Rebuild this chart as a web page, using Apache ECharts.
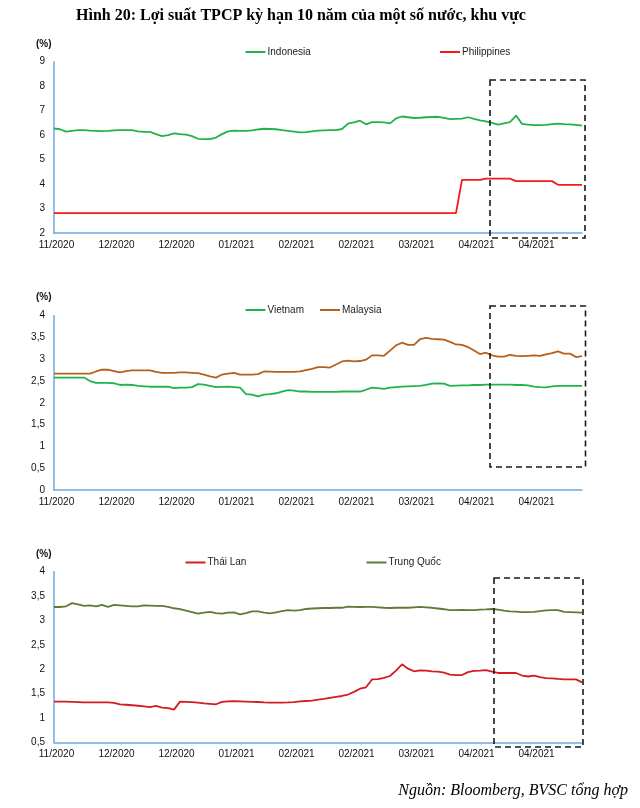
<!DOCTYPE html>
<html>
<head>
<meta charset="utf-8">
<script src="https://cdn.jsdelivr.net/npm/echarts@6/dist/echarts.min.js"></script>
<style>
html,body{margin:0;padding:0;background:#fff;}
#c{width:640px;height:808px;}
</style>
</head>
<body>
<div id="c"></div>
<script>
// ---- Data ----
const xTickLabels = ['11/2020','12/2020','12/2020','01/2021','02/2021','02/2021','03/2021','04/2021','04/2021'];
const LABEL_STEP = 10;
const categories = Array.from({length: 89}, (_, i) => 'd' + i);

const indonesia = [6.27,6.24,6.14,6.17,6.2,6.2,6.18,6.17,6.16,6.17,6.19,6.2,6.2,6.2,6.15,6.13,6.13,6.04,5.96,6.0,
6.07,6.04,6.02,5.96,5.85,5.84,5.84,5.9,6.04,6.15,6.18,6.17,6.17,6.19,6.23,6.26,6.25,6.24,6.2,6.17,
6.14,6.11,6.12,6.15,6.18,6.19,6.2,6.2,6.25,6.47,6.52,6.59,6.44,6.53,6.53,6.52,6.48,6.68,6.76,6.73,
6.7,6.71,6.73,6.74,6.75,6.7,6.65,6.66,6.67,6.73,6.66,6.6,6.56,6.5,6.43,6.48,6.53,6.8,6.46,6.43,
6.41,6.41,6.42,6.45,6.47,6.45,6.44,6.42,6.39];
const philippines = [2.81,2.81,2.81,2.81,2.81,2.81,2.81,2.81,2.81,2.81,2.81,2.81,2.81,2.81,2.81,2.81,2.81,2.81,2.81,2.81,
2.81,2.81,2.81,2.81,2.81,2.81,2.81,2.81,2.81,2.81,2.81,2.81,2.81,2.81,2.81,2.81,2.81,2.81,2.81,2.81,
2.81,2.81,2.81,2.81,2.81,2.81,2.81,2.81,2.81,2.81,2.81,2.81,2.81,2.81,2.81,2.81,2.81,2.81,2.81,2.81,
2.81,2.81,2.81,2.81,2.81,2.81,2.81,2.81,4.17,4.17,4.17,4.17,4.22,4.22,4.22,4.22,4.22,4.12,4.12,4.12,
4.12,4.12,4.12,4.12,3.97,3.97,3.97,3.97,3.97];

const vietnam = [2.58,2.58,2.58,2.58,2.58,2.58,2.5,2.46,2.46,2.46,2.45,2.41,2.42,2.41,2.39,2.38,2.37,2.37,2.37,2.37,
2.34,2.35,2.35,2.36,2.43,2.42,2.39,2.36,2.365,2.37,2.36,2.35,2.2,2.19,2.15,2.19,2.2,2.22,2.26,2.29,
2.28,2.26,2.26,2.25,2.25,2.25,2.25,2.25,2.26,2.26,2.26,2.26,2.3,2.35,2.34,2.32,2.35,2.36,2.37,2.38,
2.385,2.39,2.41,2.44,2.445,2.44,2.39,2.395,2.4,2.4,2.41,2.41,2.42,2.42,2.42,2.42,2.42,2.41,2.41,2.4,
2.37,2.36,2.355,2.38,2.39,2.39,2.39,2.39,2.39];
const malaysia = [2.67,2.67,2.67,2.67,2.67,2.67,2.67,2.72,2.76,2.76,2.73,2.7,2.73,2.745,2.745,2.745,2.745,2.71,2.69,2.69,
2.69,2.7,2.7,2.69,2.68,2.65,2.61,2.58,2.65,2.67,2.69,2.65,2.65,2.65,2.66,2.72,2.715,2.71,2.71,2.71,
2.71,2.72,2.75,2.78,2.82,2.82,2.81,2.88,2.95,2.97,2.95,2.96,2.99,3.09,3.09,3.08,3.2,3.32,3.38,3.33,
3.33,3.46,3.49,3.47,3.46,3.45,3.4,3.34,3.33,3.28,3.2,3.12,3.15,3.09,3.06,3.06,3.1,3.08,3.07,3.08,
3.09,3.08,3.11,3.14,3.18,3.13,3.13,3.05,3.07];

const thailand = [1.334,1.334,1.334,1.33,1.325,1.32,1.32,1.32,1.32,1.32,1.31,1.28,1.27,1.26,1.25,1.235,1.22,1.245,1.21,1.2,
1.17,1.334,1.33,1.325,1.315,1.3,1.29,1.28,1.33,1.34,1.345,1.34,1.335,1.328,1.327,1.32,1.316,1.313,1.316,1.32,
1.325,1.34,1.347,1.354,1.375,1.39,1.41,1.43,1.45,1.48,1.535,1.6,1.628,1.79,1.797,1.82,1.86,1.97,2.1,2.01,
1.957,1.975,1.97,1.956,1.952,1.93,1.89,1.88,1.88,1.94,1.967,1.972,1.98,1.95,1.922,1.922,1.922,1.922,1.87,1.85,
1.87,1.835,1.815,1.812,1.8,1.792,1.792,1.792,1.73];
const china = [3.276,3.276,3.29,3.355,3.33,3.3,3.31,3.29,3.32,3.28,3.32,3.31,3.3,3.29,3.29,3.31,3.305,3.3,3.3,3.28,
3.25,3.23,3.2,3.17,3.14,3.16,3.175,3.15,3.14,3.16,3.165,3.125,3.15,3.185,3.185,3.16,3.145,3.165,3.19,3.21,
3.2,3.21,3.235,3.245,3.25,3.255,3.255,3.26,3.26,3.285,3.28,3.276,3.28,3.28,3.27,3.26,3.255,3.26,3.26,3.26,
3.27,3.28,3.27,3.26,3.245,3.23,3.21,3.213,3.215,3.213,3.21,3.22,3.225,3.235,3.22,3.2,3.185,3.18,3.17,3.17,
3.175,3.19,3.205,3.21,3.21,3.175,3.17,3.165,3.16];

const titleText = 'Hình 20: Lợi suất TPCP kỳ hạn 10 năm của một số nước, khu vực';
const sourceText = 'Nguồn: Bloomberg, BVSC tổng hợp';

// ---- Layout ----
const AXIS_BLUE = '#6fa8dc';
const LABEL_FONT = 'Liberation Sans, Arial, sans-serif';
const panels = [
  {top: 61.7, height: 171.3, min: 2, max: 9, interval: 1,
   series: [{name: 'Indonesia', data: indonesia, color: '#22b24c'}, {name: 'Philippines', data: philippines, color: '#f21a1a'}],
   legendPos: [[240.5, 42], [435, 42]], pctY: 39, box: [490, 80, 95, 158]},
  {top: 315.7, height: 174.3, min: 0, max: 4, interval: 0.5,
   series: [{name: 'Vietnam', data: vietnam, color: '#22b24c'}, {name: 'Malaysia', data: malaysia, color: '#b5601c'}],
   legendPos: [[240.5, 300], [315, 300]], pctY: 292, box: [490, 306, 95.5, 161]},
  {top: 571.7, height: 170.6, min: 0.5, max: 4, interval: 0.5,
   series: [{name: 'Thái Lan', data: thailand, color: '#d41a22'}, {name: 'Trung Quốc', data: china, color: '#5f7a36'}],
   legendPos: [[180.5, 552.5], [361.5, 552.5]], pctY: 549, box: [494, 578, 89, 169]}
];

const grid = [], xAxis = [], yAxis = [], series = [], legend = [], graphic = [];
panels.forEach((p, k) => {
  grid.push({left: 54, top: p.top, width: 528, height: p.height, containLabel: false});
  xAxis.push({
    type: 'category', gridIndex: k, data: categories, boundaryGap: false,
    axisLine: {lineStyle: {color: AXIS_BLUE, width: 1.5}},
    axisTick: {show: false},
    axisLabel: {
      interval: LABEL_STEP - 1, color: '#111', fontSize: 10, fontFamily: LABEL_FONT, margin: 7,
      padding: [0, 0, 0, 5],
      formatter: (v, i) => xTickLabels[Math.round(i / LABEL_STEP)] || ''
    },
    splitLine: {show: false}
  });
  yAxis.push({
    type: 'value', gridIndex: k, min: p.min, max: p.max, interval: p.interval,
    axisLine: {show: true, lineStyle: {color: AXIS_BLUE, width: 1.5}},
    axisTick: {show: false},
    splitLine: {show: false},
    axisLabel: {color: '#111', fontSize: 10, fontFamily: LABEL_FONT, margin: 9,
      formatter: v => String(v).replace('.', ',')}
  });
  p.series.forEach((s, j) => {
    series.push({
      type: 'line', name: s.name, xAxisIndex: k, yAxisIndex: k, data: s.data,
      symbol: 'none', smooth: false, color: s.color,
      lineStyle: {color: s.color, width: 1.8}, animation: false
    });
    legend.push({
      data: [s.name], left: p.legendPos[j][0], top: p.legendPos[j][1],
      icon: 'rect', itemWidth: 20, itemHeight: 2, itemGap: 2,
      textStyle: {fontSize: 10, color: '#222', fontFamily: LABEL_FONT, padding: [0, 0, 0, -3]},
      selectedMode: false
    });
  });
  graphic.push({
    type: 'text', left: 36, top: p.pctY,
    style: {text: '(%)', font: 'bold 10px Liberation Sans, Arial, sans-serif', fill: '#111'}
  });
  graphic.push({
    type: 'rect', shape: {x: p.box[0], y: p.box[1], width: p.box[2], height: p.box[3]},
    style: {fill: 'none', stroke: '#1a1a1a', lineWidth: 1.6, lineDash: [6, 4]}, z: 10
  });
});

graphic.push({
  type: 'text', left: 76, top: 8,
  style: {text: titleText, font: 'bold 16px Liberation Serif, Times New Roman, serif', fill: '#000'}
});
graphic.push({
  type: 'text', right: 12, top: 783,
  style: {text: sourceText, font: 'italic 16px Liberation Serif, Times New Roman, serif', fill: '#000'}
});

const chart = echarts.init(document.getElementById('c'), null, {renderer: 'canvas'});
chart.setOption({animation: false, grid, xAxis, yAxis, series, legend, graphic});
</script>
</body>
</html>
